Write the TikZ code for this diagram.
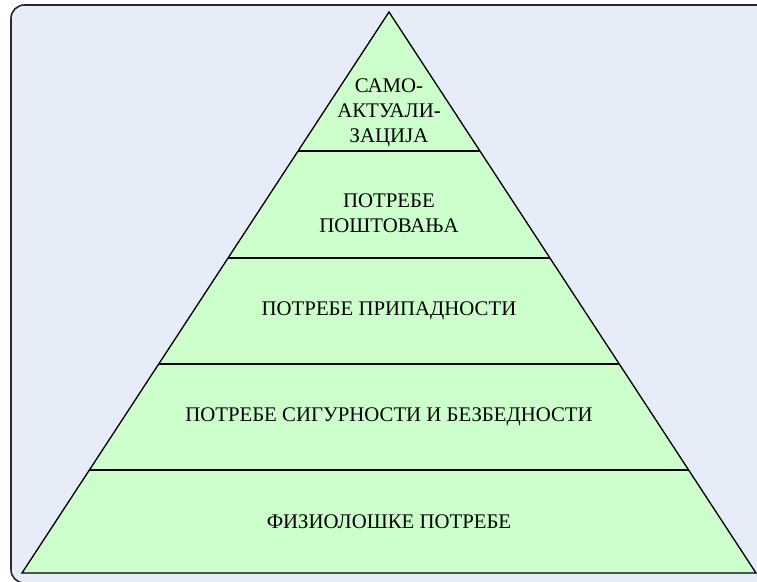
\documentclass[tikz,border=0pt]{standalone}
\usepackage{fontspec}
\setmainfont{Liberation Serif}
\usetikzlibrary{calc}
\definecolor{bgblue}{RGB}{231,237,248}
\definecolor{lvlgreen}{RGB}{204,255,204}
\definecolor{edgegray}{RGB}{40,40,40}

\begin{document}
\begin{tikzpicture}[x=0.75pt,y=-0.75pt,lbl/.style={align=center,inner sep=0pt,font=\fontsize{15.6}{18.8}\selectfont},tier/.style={draw=black,line width=1pt}]
\useasboundingbox (0,0) rectangle (757,582);
\clip (0,0) rectangle (757,582);
\draw[draw=edgegray,fill=bgblue,line width=1.2pt,rounded corners=10] (11,5) rectangle (800,583);

\coordinate (apex) at (389,12);
\coordinate (baseL) at (22,573);
\coordinate (baseR) at (756,573);
\draw[tier,fill=lvlgreen,line join=miter] (apex) -- (baseL) -- (baseR) -- cycle;
\foreach \t in {0.2478,0.4385,0.6275,0.8164}
  \draw[tier] ($(apex)!\t!(baseL)$) -- ($(apex)!\t!(baseR)$);

\node[lbl] (selfact) at (389,113) {САМО-\\АКТУАЛИ-\\ЗАЦИЈА};
\node[lbl] (esteem) at (389,213) {ПОТРЕБЕ\\ПОШТОВАЊА};
\node[lbl] (belong) at (389,311) {ПОТРЕБЕ ПРИПАДНОСТИ};
\node[lbl] (safety) at (389,417) {ПОТРЕБЕ СИГУРНОСТИ И БЕЗБЕДНОСТИ};
\node[lbl] (physio) at (389,522) {ФИЗИОЛОШКЕ ПОТРЕБЕ};
\end{tikzpicture}
\end{document}
